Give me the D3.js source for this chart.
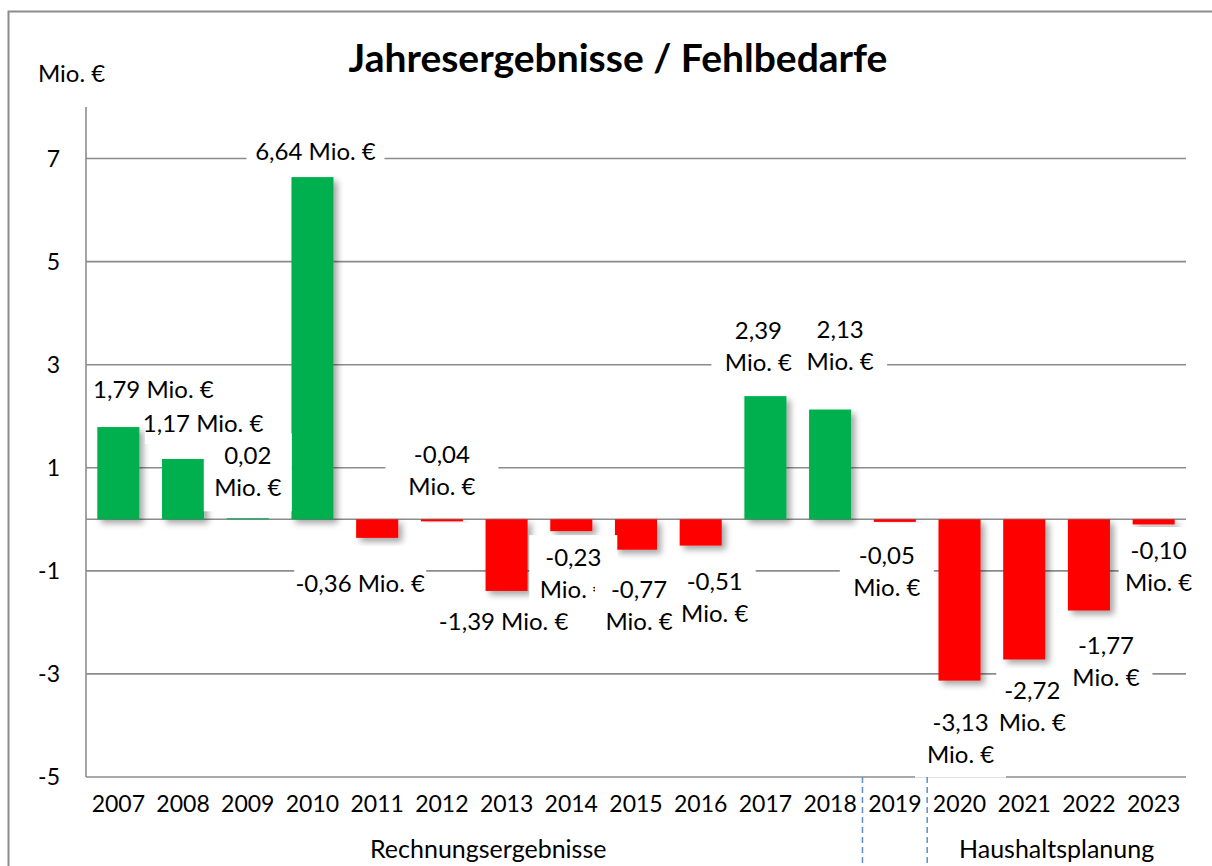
<!DOCTYPE html>
<html>
<head>
<meta charset="utf-8">
<script src="https://cdn.jsdelivr.net/npm/d3@7"></script>
<style>
  body { margin: 0; background: #fff; }
  svg text { font-family: Lato, "Open Sans", sans-serif; fill: #000; }
</style>
</head>
<body>
<div id="chart"></div>
<script>
var years = ['2007', '2008', '2009', '2010', '2011', '2012', '2013', '2014', '2015',
             '2016', '2017', '2018', '2019', '2020', '2021', '2022', '2023'];
var values = [1.79, 1.17, 0.02, 6.64, -0.36, -0.04, -1.39, -0.23, -0.59,
              -0.51, 2.39, 2.13, -0.05, -3.13, -2.72, -1.77, -0.10];
var labels = ['1,79', '1,17', '0,02', '6,64', '-0,36', '-0,04', '-1,39', '-0,23', '-0,77',
              '-0,51', '2,39', '2,13', '-0,05', '-3,13', '-2,72', '-1,77', '-0,10'];
var unit = 'Mio. €';
var y_ticks = [-5, -3, -1, 1, 3, 5, 7];
var group_names = ['Rechnungsergebnisse', 'Haushaltsplanung'];
var group_first = ['2007', '2020'];
var group_last = ['2018', '2023'];

// label placement: [dx from band centre, dy from bar end, two lines?, box width]
var label_pos = [
    [35, -37, false, 126], [20, -35, false, 116], [0, -46, true, 88], [3, -25, false, 138],
    [-17, 46, false, 132], [0, -50, true, 113], [-3, 31, false, 132], [2, 43, true, 88],
    [3, 56, true, 88], [14, 52, true, 82], [-7, -49, true, 94], [10, -64, true, 94],
    [-8, 50, true, 94], [1, 58, true, 91], [8, 48, true, 72], [17, 51, true, 93],
    [5, 43, true, 80]
];
var group_dx = [14, 0];

var chart_width = 1212;
var chart_height = 866;
var plot_left = 86, plot_right = 1186, plot_top = 107, plot_bottom = 777;
var font_size = 23;
var label_size = 24;
var line_h = 32;

var svg = d3.select('#chart')
    .append('svg')
    .attr('width', chart_width)
    .attr('height', chart_height);

var defs = svg.append('defs');
defs.append('filter')
    .attr('id', 'shadow')
    .attr('x', '-20%').attr('y', '-20%')
    .attr('width', '160%').attr('height', '160%')
    .append('feDropShadow')
    .attr('dx', 4).attr('dy', 4)
    .attr('stdDeviation', 3)
    .attr('flood-color', '#000')
    .attr('flood-opacity', 0.35);

// outer frame
svg.append('rect')
    .attr('x', 8.5).attr('y', 11.5)
    .attr('width', chart_width + 20).attr('height', chart_height + 20)
    .attr('fill', 'none')
    .attr('stroke', '#8c8c8c')
    .attr('stroke-width', 2);

var x_scale = d3.scaleBand()
    .domain(years)
    .range([plot_left, plot_right])
    .paddingInner(0.35)
    .paddingOuter(0.175);

var y_scale = d3.scaleLinear()
    .domain([-5, 8])
    .range([plot_bottom, plot_top]);

// gridlines
svg.append('g')
    .selectAll('line')
    .data(y_ticks.concat([0]))
    .enter()
    .append('line')
    .attr('x1', plot_left).attr('x2', plot_right)
    .attr('y1', function (d) { return y_scale(d); })
    .attr('y2', function (d) { return y_scale(d); })
    .attr('stroke', '#8c8c8c')
    .attr('stroke-width', 1.6);

// y axis line
svg.append('line')
    .attr('x1', plot_left).attr('x2', plot_left)
    .attr('y1', plot_top).attr('y2', plot_bottom)
    .attr('stroke', '#8c8c8c')
    .attr('stroke-width', 1.6);

// y tick labels
svg.append('g')
    .selectAll('text')
    .data(y_ticks)
    .enter()
    .append('text')
    .attr('x', 60)
    .attr('y', function (d) { return y_scale(d) + 8; })
    .attr('text-anchor', 'end')
    .attr('font-size', font_size)
    .text(function (d) { return d; });

// bars
svg.append('g')
    .selectAll('rect')
    .data(values)
    .enter()
    .append('rect')
    .attr('x', function (d, i) { return x_scale(years[i]); })
    .attr('y', function (d) { return y_scale(Math.max(d, 0)); })
    .attr('width', x_scale.bandwidth())
    .attr('height', function (d) { return Math.abs(y_scale(d) - y_scale(0)); })
    .attr('fill', function (d) { return d >= 0 ? '#00b050' : '#ff0000'; })
    .attr('filter', 'url(#shadow)');

// data labels with white boxes
var lab = svg.append('g')
    .selectAll('g')
    .data(values)
    .enter()
    .append('g')
    .attr('transform', function (d, i) {
        var cx = x_scale(years[i]) + x_scale.bandwidth() / 2 + label_pos[i][0];
        var cy = y_scale(d) + label_pos[i][1];
        return 'translate(' + cx + ',' + cy + ')';
    });

lab.append('rect')
    .attr('x', function (d, i) { return -label_pos[i][3] / 2; })
    .attr('y', function (d, i) { return label_pos[i][2] ? -39 : -20; })
    .attr('width', function (d, i) { return label_pos[i][3]; })
    .attr('height', function (d, i) { return label_pos[i][2] ? 78 : 40; })
    .attr('fill', '#fff');

lab.each(function (d, i) {
    var g = d3.select(this);
    var lines = label_pos[i][2] ? [labels[i], unit] : [labels[i] + ' ' + unit];
    var off = (lines.length - 1) * line_h / 2;
    lines.forEach(function (t, k) {
        g.append('text')
            .attr('x', 0)
            .attr('y', k * line_h - off + 8)
            .attr('text-anchor', 'middle')
            .attr('font-size', label_size)
            .text(t);
    });
});

// year labels
svg.append('g')
    .selectAll('text')
    .data(years)
    .enter()
    .append('text')
    .attr('x', function (d) { return x_scale(d) + x_scale.bandwidth() / 2; })
    .attr('y', 812)
    .attr('text-anchor', 'middle')
    .attr('font-size', font_size)
    .text(function (d) { return d; });

// group separators
var step = x_scale.step();
var pad = step * x_scale.paddingInner() / 2;
svg.append('g')
    .selectAll('line')
    .data(['2019', '2020'])
    .enter()
    .append('line')
    .attr('x1', function (d) { return x_scale(d) - pad; })
    .attr('x2', function (d) { return x_scale(d) - pad; })
    .attr('y1', plot_bottom)
    .attr('y2', chart_height)
    .attr('stroke', '#5b8fc9')
    .attr('stroke-width', 1.5)
    .attr('stroke-dasharray', '6,4');

// group labels
svg.append('g')
    .selectAll('text')
    .data(group_names)
    .enter()
    .append('text')
    .attr('x', function (d, i) {
        var a = x_scale(group_first[i]) - pad;
        var b = x_scale(group_last[i]) + x_scale.bandwidth() + pad;
        return (a + b) / 2 + group_dx[i];
    })
    .attr('y', 858)
    .attr('text-anchor', 'middle')
    .attr('font-size', 25)
    .text(function (d) { return d; });

// axis unit
svg.append('text')
    .attr('x', 38)
    .attr('y', 82)
    .attr('font-size', label_size)
    .text(unit);

// title
svg.append('text')
    .attr('x', 618)
    .attr('y', 72)
    .attr('text-anchor', 'middle')
    .attr('font-size', 39)
    .attr('font-weight', 'bold')
    .text('Jahresergebnisse / Fehlbedarfe');
</script>
</body>
</html>
